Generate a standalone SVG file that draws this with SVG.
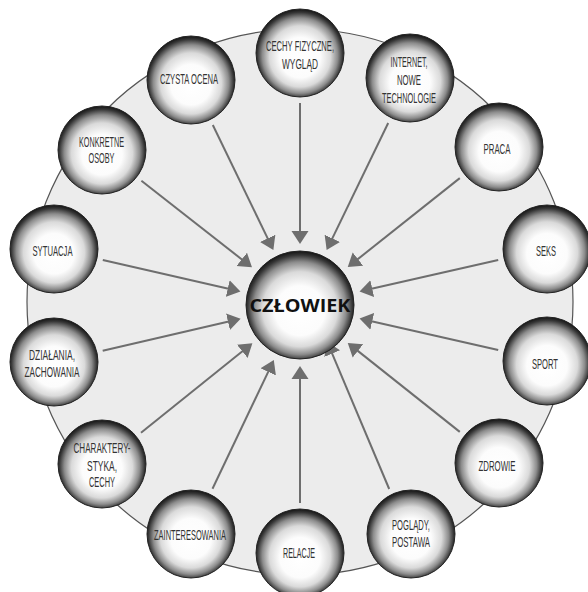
<svg xmlns="http://www.w3.org/2000/svg" width="588" height="592" viewBox="0 0 588 592">
<defs>
<radialGradient id="sph" cx="50%" cy="52%" r="51%" fx="50%" fy="58%">
<stop offset="0" stop-color="#ffffff"/>
<stop offset="0.45" stop-color="#fcfcfc"/>
<stop offset="0.68" stop-color="#dadada"/>
<stop offset="0.84" stop-color="#8c8c8c"/>
<stop offset="0.95" stop-color="#363636"/>
<stop offset="1" stop-color="#1c1c1c"/>
</radialGradient>
<marker id="ah" markerUnits="userSpaceOnUse" markerWidth="14" markerHeight="18" refX="3" refY="9" orient="auto">
<path d="M0,0.5 L13,9 L0,17.5 z" fill="#6e6e6e"/>
</marker>
</defs>
<style>
.bg{fill:#ececec;stroke:#555;stroke-width:1.2}
.node{fill:url(#sph);stroke:#222;stroke-width:1}
.lbl{font-family:"Liberation Sans",Arial,sans-serif;font-size:14.5px;fill:#333;text-anchor:middle}
.main{font-family:"Open Sans","Liberation Sans",sans-serif;font-size:18px;font-weight:bold;fill:#111;text-anchor:middle}
.conn line{stroke:#6e6e6e;stroke-width:2;marker-end:url(#ah)}
</style>
<circle class="bg" cx="300" cy="302" r="273"/>
<g id="connectors" class="conn">
<line x1="300" y1="103" x2="300" y2="234"/>
<line x1="388.2" y1="123" x2="331" y2="241.1"/>
<line x1="459.8" y1="178.1" x2="355.6" y2="260.9"/>
<line x1="498.2" y1="260.1" x2="369.3" y2="289.3"/>
<line x1="498.2" y1="349.9" x2="369.3" y2="320.7"/>
<line x1="459.8" y1="431.9" x2="355.6" y2="349.1"/>
<line x1="389.2" y1="489" x2="331" y2="350.9"/>
<line x1="300" y1="503" x2="300" y2="376"/>
<line x1="212.5" y1="488.8" x2="269.5" y2="369.1"/>
<line x1="141" y1="432.7" x2="244.6" y2="349.5"/>
<line x1="102.7" y1="350.7" x2="230.9" y2="321"/>
<line x1="102.8" y1="260.1" x2="230.7" y2="289.2"/>
<line x1="141.4" y1="180.8" x2="244.1" y2="261.2"/>
<line x1="212.8" y1="125" x2="269" y2="241.1"/>
</g>
<g id="czlowiek">
<circle class="node" cx="300" cy="305" r="54"/>
<text class="main" x="300" y="311.5" textLength="101" lengthAdjust="spacingAndGlyphs">CZŁOWIEK</text>
</g>
<g id="cechy">
<circle class="node" cx="300" cy="53" r="44"/>
<text class="lbl" x="300" y="50.5" textLength="68" lengthAdjust="spacingAndGlyphs">CECHY FIZYCZNE,</text>
<text class="lbl" x="300" y="68.5" textLength="36" lengthAdjust="spacingAndGlyphs">WYGLĄD</text>
</g>
<g id="internet">
<circle class="node" cx="410" cy="78" r="44"/>
<text class="lbl" x="409" y="66.5" textLength="37" lengthAdjust="spacingAndGlyphs">INTERNET,</text>
<text class="lbl" x="409" y="84.5" textLength="24" lengthAdjust="spacingAndGlyphs">NOWE</text>
<text class="lbl" x="409" y="102.5" textLength="54" lengthAdjust="spacingAndGlyphs">TECHNOLOGIE</text>
</g>
<g id="praca">
<circle class="node" cx="499" cy="147" r="44"/>
<text class="lbl" x="497" y="153.5" textLength="27" lengthAdjust="spacingAndGlyphs">PRACA</text>
</g>
<g id="seks">
<circle class="node" cx="547" cy="249" r="44"/>
<text class="lbl" x="546" y="255.5" textLength="20" lengthAdjust="spacingAndGlyphs">SEKS</text>
</g>
<g id="sport">
<circle class="node" cx="547" cy="361" r="44"/>
<text class="lbl" x="545" y="368.5" textLength="26" lengthAdjust="spacingAndGlyphs">SPORT</text>
</g>
<g id="zdrowie">
<circle class="node" cx="499" cy="463" r="44"/>
<text class="lbl" x="497" y="470.5" textLength="37" lengthAdjust="spacingAndGlyphs">ZDROWIE</text>
</g>
<g id="poglady">
<circle class="node" cx="411" cy="534" r="44"/>
<text class="lbl" x="411" y="529.5" textLength="38" lengthAdjust="spacingAndGlyphs">POGLĄDY,</text>
<text class="lbl" x="411" y="546.5" textLength="38" lengthAdjust="spacingAndGlyphs">POSTAWA</text>
</g>
<g id="relacje">
<circle class="node" cx="300" cy="553" r="44"/>
<text class="lbl" x="299" y="557.5" textLength="32" lengthAdjust="spacingAndGlyphs">RELACJE</text>
</g>
<g id="zainteresowania">
<circle class="node" cx="191" cy="534" r="44"/>
<text class="lbl" x="190" y="539.5" textLength="72" lengthAdjust="spacingAndGlyphs">ZAINTERESOWANIA</text>
</g>
<g id="charakterystyka">
<circle class="node" cx="102" cy="464" r="44"/>
<text class="lbl" x="102" y="452.5" textLength="57" lengthAdjust="spacingAndGlyphs">CHARAKTERY-</text>
<text class="lbl" x="102" y="470.5" textLength="30" lengthAdjust="spacingAndGlyphs">STYKA,</text>
<text class="lbl" x="102" y="486.5" textLength="26" lengthAdjust="spacingAndGlyphs">CECHY</text>
</g>
<g id="dzialania">
<circle class="node" cx="54" cy="362" r="44"/>
<text class="lbl" x="52" y="359.5" textLength="46" lengthAdjust="spacingAndGlyphs">DZIAŁANIA,</text>
<text class="lbl" x="52" y="376.5" textLength="55" lengthAdjust="spacingAndGlyphs">ZACHOWANIA</text>
</g>
<g id="sytuacja">
<circle class="node" cx="54" cy="249" r="44"/>
<text class="lbl" x="52.5" y="255.5" textLength="40" lengthAdjust="spacingAndGlyphs">SYTUACJA</text>
</g>
<g id="konkretne">
<circle class="node" cx="102" cy="150" r="44"/>
<text class="lbl" x="101.5" y="146.5" textLength="45" lengthAdjust="spacingAndGlyphs">KONKRETNE</text>
<text class="lbl" x="101.5" y="162.5" textLength="26" lengthAdjust="spacingAndGlyphs">OSOBY</text>
</g>
<g id="czysta">
<circle class="node" cx="191" cy="80" r="44"/>
<text class="lbl" x="189" y="83.5" textLength="58" lengthAdjust="spacingAndGlyphs">CZYSTA OCENA</text>
</g>
</svg>
